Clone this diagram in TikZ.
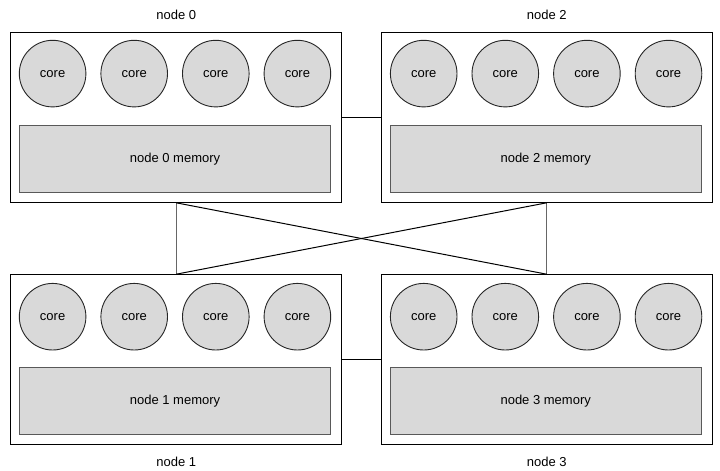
\documentclass[tikz,border=0pt]{standalone}
\usepackage{fontspec}
\setmainfont{Liberation Sans}
\begin{document}
\begin{tikzpicture}[x=1pt,y=-1pt,
  every node/.style={font=\fontsize{13}{15}\selectfont, inner sep=0pt},
  txt/.style={text height=9.5pt, text depth=1.3pt},
  numabox/.style={draw=black, line width=1pt, fill=white, minimum width=331pt, minimum height=170pt},
  corec/.style={txt, circle, draw=black!85, line width=0.9pt, fill=fillgray, minimum size=66.6pt},
  membox/.style={txt, draw=black!65, line width=1pt, fill=fillgray, minimum width=311pt, minimum height=67pt},
  link/.style={draw=black, line width=1pt},
  vlink/.style={draw=black!60, line width=1pt},
  lbl/.style={txt}
]
\definecolor{fillgray}{HTML}{D9D9D9}
\useasboundingbox (0,0) rectangle (720,471);
\fill[white] (0,0) rectangle (720,471);

% outer node boxes
\node[numabox] (n0) at (176.2,117.3) {};
\node[numabox] (n2) at (546.7,117.3) {};
\node[numabox] (n1) at (176.2,359.7) {};
\node[numabox] (n3) at (546.7,359.7) {};

% connectors
\draw[link] (n0.east) -- (n2.west);
\draw[link] (n1.east) -- (n3.west);
\draw[vlink] (n0.south) -- (n1.north);
\draw[vlink] (n2.south) -- (n3.north);
\draw[link] (n0.south) -- (n3.north);
\draw[link] (n2.south) -- (n1.north);

% cores
\foreach \i/\x in {a/52.6,b/134.2,c/215.8,d/297.4}{
  \node[corec] (c0\i) at (\x,73.6) {core};
  \node[corec] (c1\i) at (\x,316.7) {core};
}
\foreach \i/\x in {a/423.7,b/505.3,c/586.9,d/668.5}{
  \node[corec] (c2\i) at (\x,73.6) {core};
  \node[corec] (c3\i) at (\x,316.7) {core};
}

% memories
\node[membox] (m0) at (175.0,158.8) {node 0 memory};
\node[membox] (m2) at (545.7,158.8) {node 2 memory};
\node[membox] (m1) at (175.0,400.8) {node 1 memory};
\node[membox] (m3) at (545.7,400.8) {node 3 memory};

% labels
\node[lbl] (l0) at (176.2,15) {node 0};
\node[lbl] (l2) at (546.7,15) {node 2};
\node[lbl] (l1) at (176.2,462) {node 1};
\node[lbl] (l3) at (546.7,462) {node 3};
\end{tikzpicture}
\end{document}
